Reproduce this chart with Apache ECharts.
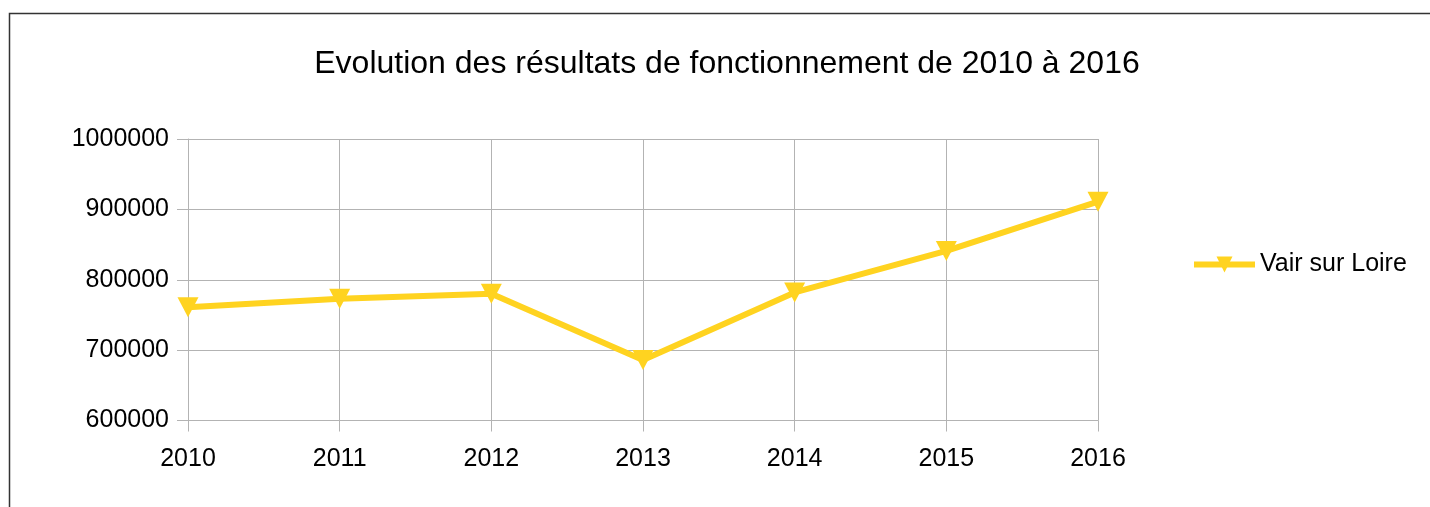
<!DOCTYPE html>
<html>
<head>
<meta charset="utf-8">
<script src="https://cdn.jsdelivr.net/npm/echarts@6/dist/echarts.min.js"></script>
<style>
html, body { margin: 0; padding: 0; background: #fff; }
#chart { width: 1430px; height: 507px; }
</style>
</head>
<body>
<div id="chart"></div>
<script>
// données
const years = ['2010', '2011', '2012', '2013', '2014', '2015', '2016']
const vairSurLoire = [761000, 773000, 780000, 686000, 782000, 841000, 911000]
const yMin = 600000
const yMax = 1000000
const yStep = 100000

let chart = echarts.init(document.getElementById('chart'))

let font = 'Liberation Sans'
let gridColor = '#b3b3b3'

let option = {
    animation: false,
    backgroundColor: '#fff',
    title: {
        text: 'Evolution des résultats de fonctionnement de 2010 à 2016',
        left: 722,
        top: 43,
        textAlign: 'center',
        textStyle: {
            fontFamily: font,
            fontSize: 32,
            fontWeight: 'normal',
            color: '#000'
        }
    },
    graphic: [
        {
            type: 'polyline',
            silent: true,
            shape: { points: [[9.5, 507], [9.5, 13.5], [1430, 13.5]] },
            style: { stroke: '#333', lineWidth: 1.5, fill: null }
        }
    ],
    legend: {
        left: 1191,
        top: 252,
        padding: 0,
        orient: 'vertical',
        itemWidth: 61,
        itemHeight: 20,
        itemGap: 10,
        lineStyle: { width: 6 },
        textStyle: { fontFamily: font, fontSize: 25, color: '#000' },
        data: ['Vair sur Loire']
    },
    grid: {
        left: 188,
        right: 332,
        top: 139,
        bottom: 86.5,
        containLabel: false
    },
    xAxis: {
        type: 'category',
        data: years,
        boundaryGap: false,
        axisLine: { lineStyle: { color: gridColor, width: 1 } },
        axisTick: { show: true, length: 11, lineStyle: { color: gridColor } },
        axisLabel: { fontFamily: font, fontSize: 25, color: '#000', margin: 26 },
        splitLine: { show: true, lineStyle: { color: gridColor, width: 1 } }
    },
    yAxis: {
        type: 'value',
        min: yMin,
        max: yMax,
        interval: yStep,
        axisLine: { show: true, lineStyle: { color: gridColor, width: 1 } },
        axisTick: { show: true, length: 11, lineStyle: { color: gridColor } },
        axisLabel: {
            fontFamily: font, fontSize: 25, color: '#000', margin: 19,
            formatter: v => String(v)
        },
        splitLine: { show: true, lineStyle: { color: gridColor, width: 1 } }
    },
    series: [{
        name: 'Vair sur Loire',
        type: 'line',
        data: vairSurLoire,
        symbol: 'triangle',
        symbolRotate: 180,
        symbolSize: [21, 20],
        showAllSymbol: true,
        itemStyle: { color: '#ffd320' },
        lineStyle: { color: '#ffd320', width: 6 },
        z: 5
    }]
}
chart.setOption(option)
</script>
</body>
</html>
